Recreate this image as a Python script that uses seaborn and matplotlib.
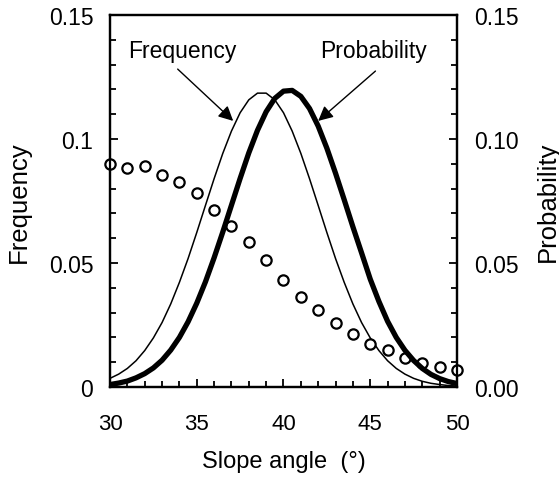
import numpy as np
import pandas as pd
import seaborn as sns
import matplotlib.pyplot as plt
from matplotlib.ticker import MultipleLocator, FixedLocator

# slope angle grid for the two curves (0.5 deg steps)
angle = np.arange(30, 50.5, 0.5)

# thin curve: frequency of slopes
frequency = [0.0035, 0.0052, 0.0075, 0.0106, 0.0147, 0.0198, 0.0260, 0.0335,
             0.0422, 0.0518, 0.0623, 0.0732, 0.0840, 0.0942, 0.1032, 0.1106,
             0.1158, 0.1185, 0.1185, 0.1158, 0.1106, 0.1032, 0.0942, 0.0840,
             0.0732, 0.0623, 0.0518, 0.0422, 0.0335, 0.0260, 0.0198, 0.0147,
             0.0106, 0.0075, 0.0052, 0.0035, 0.0023, 0.0015, 0.0010, 0.0006,
             0.0004]

# thick curve: landslide probability
probability = [0.0010, 0.0016, 0.0024, 0.0037, 0.0054, 0.0077, 0.0108, 0.0149,
               0.0200, 0.0263, 0.0338, 0.0424, 0.0521, 0.0625, 0.0733, 0.0841,
               0.0944, 0.1035, 0.1110, 0.1164, 0.1193, 0.1196, 0.1172, 0.1123,
               0.1052, 0.0963, 0.0862, 0.0755, 0.0646, 0.0541, 0.0435, 0.0345,
               0.0265, 0.0200, 0.0148, 0.0107, 0.0075, 0.0051, 0.0034, 0.0022,
               0.0014]

# open circles at each integer degree
circle_angle = list(range(30, 51))
circle_value = [0.0899, 0.0882, 0.0892, 0.0855, 0.0825, 0.0782, 0.0715, 0.0649,
                0.0585, 0.0511, 0.0433, 0.0365, 0.0311, 0.0259, 0.0212, 0.0173,
                0.0148, 0.0117, 0.0098, 0.0079, 0.0067]

curves = pd.DataFrame({"angle": angle, "frequency": frequency,
                       "probability": probability})
dots = pd.DataFrame({"angle": circle_angle, "value": circle_value})

sns.set_style("ticks", {"axes.edgecolor": "black", "text.color": "black",
                        "xtick.color": "black", "ytick.color": "black",
                        "axes.labelcolor": "black"})
plt.rcParams["font.family"] = ["Liberation Sans", "DejaVu Sans"]
plt.rcParams["font.size"] = 16

fig = plt.figure(figsize=(5.59, 4.81), dpi=100)
ax = fig.add_axes([0.1968, 0.1933, 0.6207, 0.7734])
ax2 = ax.twinx()

sns.lineplot(data=curves, x="angle", y="frequency", ax=ax,
             color="black", linewidth=1.1)
sns.lineplot(data=curves, x="angle", y="probability", ax=ax2,
             color="black", linewidth=3.8)
sns.scatterplot(data=dots, x="angle", y="value", ax=ax2, marker="o",
                s=55, facecolor="white", edgecolor="black", linewidth=1.6,
                zorder=1, clip_on=False)

for a in (ax, ax2):
    a.set_xlim(30, 50)
    a.set_ylim(0, 0.15)
    for s in a.spines.values():
        s.set_linewidth(1.6)
        s.set_visible(True)

ax.xaxis.set_major_locator(MultipleLocator(5))
ax.xaxis.set_minor_locator(MultipleLocator(1))
ax.yaxis.set_major_locator(FixedLocator([0, 0.05, 0.1, 0.15]))
ax.yaxis.set_minor_locator(MultipleLocator(0.01))
ax.set_yticklabels(["0", "0.05", "0.1", "0.15"])
ax2.yaxis.set_major_locator(FixedLocator([0, 0.05, 0.1, 0.15]))
ax2.yaxis.set_minor_locator(MultipleLocator(0.01))
ax2.set_yticklabels(["0.00", "0.05", "0.10", "0.15"])

ax.tick_params(axis="x", which="both", direction="in", top=False,
               labelsize=16, pad=19, width=1.3)
ax.tick_params(axis="x", which="major", length=6)
ax.tick_params(axis="x", which="minor", length=4)
for a in (ax, ax2):
    a.tick_params(axis="y", which="both", direction="in", labelsize=16.5,
                  pad=12, width=1.3)
    a.tick_params(axis="y", which="major", length=6)
    a.tick_params(axis="y", which="minor", length=4)

ax.set_xlabel("Slope angle  (°)", fontsize=17, labelpad=11)
ax.set_ylabel("Frequency", fontsize=18.5, labelpad=13)
ax2.set_ylabel("Probability", fontsize=18.5, labelpad=13)

ax.text(34.15, 0.1355, "Frequency", ha="center", va="center", fontsize=16.5)
ax.text(45.2, 0.1355, "Probability", ha="center", va="center", fontsize=16.5)
arrow = dict(arrowstyle="-|>", color="black", lw=1.0, mutation_scale=22,
             shrinkA=0, shrinkB=0)
ax.annotate("", xy=(37.1, 0.1073), xytext=(33.9, 0.1282), arrowprops=arrow)
ax.annotate("", xy=(42.0, 0.1073), xytext=(45.3, 0.1274), arrowprops=arrow)

fig.savefig("out.png", dpi=100)
